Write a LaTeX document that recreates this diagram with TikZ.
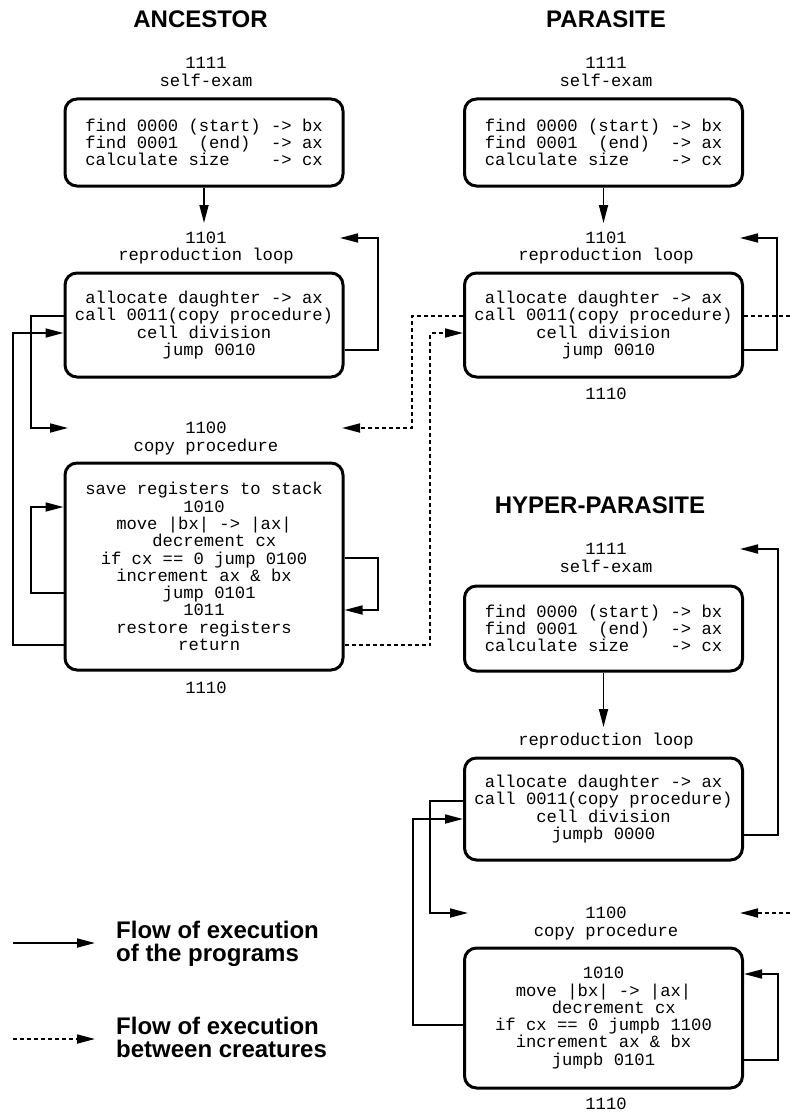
\documentclass[tikz,border=0pt]{standalone}
\usepackage{fontspec}
\newfontfamily\monof{Liberation Mono}
\newfontfamily\sansf{Liberation Sans}
\usetikzlibrary{arrows.meta}
\newcommand\mtxt{\monof\fontsize{17.2}{17.3}\selectfont}
\newcommand\ttl{\sansf\bfseries\fontsize{24}{23}\selectfont}
\begin{document}
\begin{tikzpicture}[x=1pt,y=-1pt,
  box/.style={draw, line width=3pt, rounded corners=12pt, minimum width=278pt, inner sep=0pt, font=\mtxt, align=center},
  lbl/.style={font=\mtxt, anchor=base, inner sep=0pt},
  title/.style={font=\ttl, anchor=base, inner sep=0pt},
  legend/.style={font=\ttl, anchor=west, align=left, inner sep=0pt},
  flow/.style={line width=1.7pt, -{Triangle[length=18pt,width=9pt]}},
  xflow/.style={flow, dash pattern=on 4pt off 3pt},
]
\useasboundingbox (0,0) rectangle (790,1113);

% titles
\node[title] (tA) at (200.5,28) {ANCESTOR};
\node[title] (tP) at (606,28) {PARASITE};
\node[title] (tH) at (600,513) {HYPER-PARASITE};

% ---------------- ANCESTOR ----------------
\node[lbl] (aL1n) at (206,69) {1111};
\node[lbl] (aL1t) at (206,87) {self-exam};
\node[box, minimum height=87pt, align=left] (a1) at (204,142.5)
  {find 0000 (start) -> bx\\find 0001~~(end)~~->~ax\\calculate size~~~~->~cx};
\node[lbl] (aL2n) at (206,243) {1101};
\node[lbl] (aL2t) at (206,260) {reproduction loop};
\node[box, minimum height=104pt] (a2) at (204,325)
  {allocate daughter -> ax\\call 0011(copy procedure)\\cell division\\\hphantom{x}jump 0010};
\node[lbl] (aL3n) at (206,433) {1100};
\node[lbl] (aL3t) at (206,451) {copy procedure};
\node[box, minimum height=207pt] (a3) at (204,566.5)
  {save registers to stack\\1010\\move |bx| -> |ax|\\\hphantom{xx}decrement cx\\if cx == 0 jump 0100\\increment ax \& bx\\\hphantom{x}jump 0101\\1011\\restore registers\\\hphantom{x}return};
\node[lbl] (aL4n) at (206,693) {1110};

% ---------------- PARASITE ----------------
\node[lbl] (pL1n) at (606,69) {1111};
\node[lbl] (pL1t) at (606,87) {self-exam};
\node[box, minimum height=87pt, align=left] (p1) at (603.5,142.5)
  {find 0000 (start) -> bx\\find 0001~~(end)~~->~ax\\calculate size~~~~->~cx};
\node[lbl] (pL2n) at (606,243) {1101};
\node[lbl] (pL2t) at (606,260) {reproduction loop};
\node[box, minimum height=104pt] (p2) at (603.5,325)
  {allocate daughter -> ax\\call 0011(copy procedure)\\cell division\\\hphantom{x}jump 0010};
\node[lbl] (pL3n) at (606,399) {1110};

% ---------------- HYPER-PARASITE ----------------
\node[lbl] (hL1n) at (606,554) {1111};
\node[lbl] (hL1t) at (606,572) {self-exam};
\node[box, minimum height=85pt, align=left] (h1) at (603.5,628.5)
  {find 0000 (start) -> bx\\find 0001~~(end)~~->~ax\\calculate size~~~~->~cx};
\node[lbl] (hL2t) at (606,745) {reproduction loop};
\node[box, minimum height=102pt] (h2) at (603.5,809)
  {allocate daughter -> ax\\call 0011(copy procedure)\\cell division\\jumpb 0000};
\node[lbl] (hL3n) at (606,918) {1100};
\node[lbl] (hL3t) at (606,936) {copy procedure};
\node[box, minimum height=140pt] (h3) at (603.5,1018)
  {1010\\move |bx| -> |ax|\\\hphantom{xx}decrement cx\\if cx == 0 jumpb 1100\\increment ax \& bx\\jumpb 0101};
\node[lbl] (hL4n) at (606,1109) {1110};

% ---------------- free ends ----------------
\coordinate (eA1) at (204,223);
\coordinate (eA2) at (340,238);
\coordinate (eA3) at (68,428);
\coordinate (eP1) at (603.5,223);
\coordinate (eP2) at (740,238);
\coordinate (eP3) at (342,428);
\coordinate (eEdge1) at (790,316);
\coordinate (eEdge2) at (790,913);
\coordinate (eH0) at (740,913);
\coordinate (eH1) at (603.5,727);
\coordinate (eH2) at (740,549);
\coordinate (eH3) at (468,913);

% ---------------- ANCESTOR connectors ----------------
\draw[flow] (a1.south) -- (eA1);
\draw[flow] (a2.east |- 0,350) -- (378,350) -- (378,238) -- (eA2);
\draw[flow] (a2.west |- 0,316) -- (31,316) -- (31,428) -- (eA3);
\draw[flow] (a3.west |- 0,645) -- (13,645) -- (13,333) -- (a2.west |- 0,333);
\draw[flow] (a3.west |- 0,593) -- (31,593) -- (31,507) -- (a3.west |- 0,507);
\draw[flow] (a3.east |- 0,558) -- (378,558) -- (378,610) -- (a3.east |- 0,610);

% ---------------- between creatures ----------------
\draw[xflow] (a3.east |- 0,645) -- (430,645) -- (430,333) -- (p2.west |- 0,333);
\draw[xflow] (p2.west |- 0,316) -- (412,316) -- (412,428) -- (eP3);
\draw[line width=1.7pt, dash pattern=on 4pt off 3pt] (p2.east |- 0,316) -- (eEdge1);
\draw[xflow] (eEdge2) -- (eH0);

% ---------------- PARASITE connectors ----------------
\draw[flow] (p1.south) -- (eP1);
\draw[flow] (p2.east |- 0,350) -- (777,350) -- (777,238) -- (eP2);

% ---------------- HYPER-PARASITE connectors ----------------
\draw[flow] (h1.south) -- (eH1);
\draw[flow] (h2.east |- 0,835) -- (778,835) -- (778,549) -- (eH2);
\draw[flow] (h2.west |- 0,801) -- (430,801) -- (430,913) -- (eH3);
\draw[flow] (h3.west |- 0,1025) -- (413,1025) -- (413,819) -- (h2.west |- 0,819);
\draw[flow] (h3.east |- 0,1060) -- (778,1060) -- (778,974) -- (h3.east |- 0,974);

% ---------------- legend ----------------
\coordinate (lg1s) at (13,943);
\coordinate (lg1e) at (95,943);
\coordinate (lg2s) at (13,1039);
\coordinate (lg2e) at (95,1039);
\draw[flow] (lg1s) -- (lg1e);
\draw[xflow] (lg2s) -- (lg2e);
\node[legend] (lg1) at (116,943.5) {Flow of execution\\of the programs};
\node[legend] (lg2) at (116,1037) {Flow of execution\\between creatures};
\end{tikzpicture}
\end{document}
